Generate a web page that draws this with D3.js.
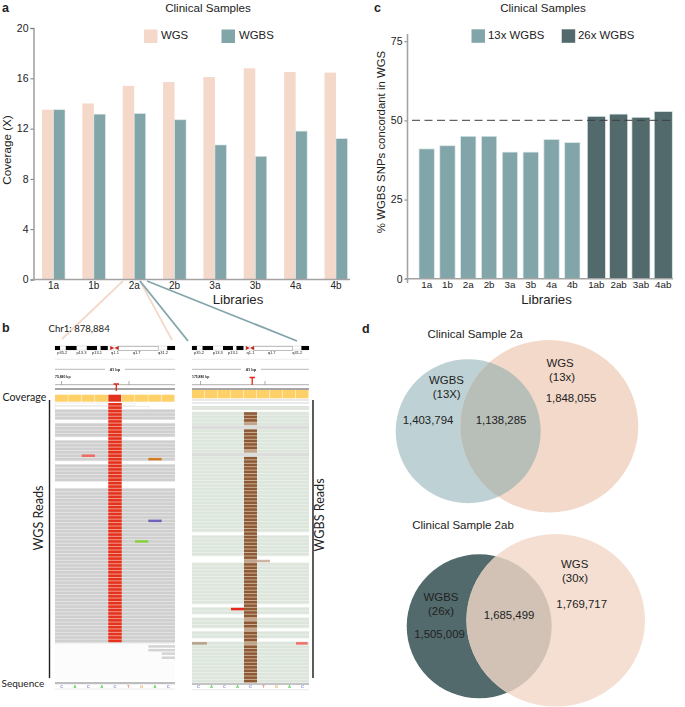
<!DOCTYPE html>
<html><head><meta charset="utf-8">
<script src="https://cdn.jsdelivr.net/npm/d3@7/dist/d3.min.js"></script>
<style>
html,body{margin:0;padding:0;background:#fff}
svg{display:block}
text{font-family:"Liberation Sans",Arial,sans-serif;fill:#222}
.hum{font-family:"Lato","Open Sans",sans-serif}
</style></head><body><svg id="c" width="685" height="707"></svg>
<script>
// ---- panel a
const libs = ["1a","1b","2a","2b","3a","3b","4a","4b"];
const wgsCoverage = [13.5,14,15.4,15.7,16.1,16.8,16.5,16.45];
const wgbsCoverage = [13.5,13.15,13.2,12.7,10.7,9.8,11.8,11.2];
const coverageTicks = [0,4,8,12,16,20];
// ---- panel c
const libs13 = ["1a","1b","2a","2b","3a","3b","4a","4b"];
const pct13 = [41,42,45,45,40,40,44,43];
const libs26 = ["1ab","2ab","3ab","4ab"];
const pct26 = [51.3,52,51,52.8];
const pctTicks = [0,25,50,75];
// ---- panel d
const venn2a = ["1,403,794","1,138,285","1,848,055"];
const venn2ab = ["1,505,009","1,685,499","1,769,717"];
// ---- panel b (read rows / base columns of the genome browser views)
const bases = ["C","A","C","A","C","T","G","A","C"];
const baseColors = {C:"#7f7fd8",A:"#5fce5f",T:"#f07a6a",G:"#f0a860"};
const cytoBlack = [[0,4.2],[9,18],[26.5,35],[38,44]];
const cytoNames = ["p35.2","p13.3","p13.1","q1.1","q1.7","q31.2"];
const cytoNamePos = [6,22,35,50,68,90];
const wgsRuns = [[2,4],[6,9],[11,16],[18,22],[25,69]];
const wgsMismatch = [{row:15,col:2,c:"#ee6a62"},{row:16,col:7,c:"#d67a20"},{row:34,col:7,c:"#6e62b8"},{row:40,col:6,c:"#88d040"}];
const wgsTail = [{row:70.6,col:7},{row:71.7,col:7},{row:72.7,col:8},{row:73.9,col:8}];
const wgbsRuns = [[0,3],[5,11],[13,34],[36,41],[44,55],[57,58],[60,62],[64,65],[67,78]];
const wgbsGrayRows = [4,12];
const wgbsBrownRuns = [[0,3],[5,11],[13,78]];
const wgbsPaleRows = [3,11,43,63,67,60];
const wgbsMismatch = [{row:43,col:5,c:"#cdb4a2",f:1},{row:57,col:3,c:"#e8281c",f:1},{row:67,col:0,c:"#b9a089",f:1.15},{row:67,col:8,c:"#f0706a",f:.9}];

const svg = d3.select("#c");
function label(t,x,y,size,opt={}){
  const e = svg.append("text").text(t).attr("x",x).attr("y",y).attr("font-size",size)
    .attr("text-anchor",opt.anchor||"middle").attr("dominant-baseline","middle");
  if(opt.bold) e.attr("font-weight","bold");
  if(opt.cls) e.attr("class",opt.cls);
  if(opt.rot) e.attr("transform",`rotate(${opt.rot} ${x} ${y})`);
  return e;
}
function styleAxis(g,fs){
  g.selectAll("path.domain").attr("stroke","#a3a3a3").attr("stroke-width",1.6);
  g.selectAll(".tick line").attr("stroke","#777");
  g.selectAll(".tick text").attr("font-size",fs).attr("font-family","Liberation Sans").attr("fill","#222");
}
const cWGS="#f4d9ca", cTeal="#82a5aa", cDark="#526a6c", cEdge="#dfeaea";

// ======= connectors (drawn first, below axes)
[[123,281,62,339,cWGS],[140,281,172,340,cWGS],[140,281,188,341,cTeal],[147,281,297,341,cTeal]].forEach(l=>{
  svg.append("line").attr("x1",l[0]).attr("y1",l[1]).attr("x2",l[2]).attr("y2",l[3]).attr("stroke",l[4]).attr("stroke-width",1.8);
});

// ======= panel a
const yA = d3.scaleLinear().domain([0,20]).range([279.5,28]);
const x0 = d3.scaleBand().domain(libs).range([33.3,356.2]).paddingInner(.43).paddingOuter(.2156);
const x1 = d3.scaleBand().domain(["WGS","WGBS"]).range([0,x0.bandwidth()]);
const gA = svg.append("g");
[["WGS",wgsCoverage,cWGS],["WGBS",wgbsCoverage,cTeal]].forEach(([n,vals,col])=>{
  gA.selectAll("rect."+n).data(libs).join("rect").attr("class",n)
    .attr("x",d=>x0(d)+x1(n)).attr("width",x1.bandwidth())
    .attr("y",(d,i)=>yA(vals[i])).attr("height",(d,i)=>yA(0)-yA(vals[i]))
    .attr("fill",col).attr("stroke",n==="WGBS"?cEdge:"none").attr("stroke-width",.6);
});
const axAy = svg.append("g").attr("transform","translate(33.5,0)").call(d3.axisLeft(yA).tickValues(coverageTicks).tickSize(3).tickPadding(2));
styleAxis(axAy,10.5);
svg.append("line").attr("x1",33).attr("x2",350).attr("y1",279.5).attr("y2",279.5).attr("stroke","#a3a3a3").attr("stroke-width",1.6);
const axAx = svg.append("g").attr("transform","translate(0,279.5)").call(d3.axisBottom(x0).tickSize(0).tickPadding(2));
axAx.select("path.domain").remove();
styleAxis(axAx,10);
label("Clinical Samples",208,8.5,11.6);
label("Libraries",238,300.5,13.2);
label("Coverage (X)",7.5,150,11.7,{rot:-90});
label("a",2,9,12.5,{anchor:"start",bold:true});
svg.append("rect").attr("x",144).attr("y",29.5).attr("width",13.5).attr("height",13.5).attr("fill",cWGS);
label("WGS",161,36,11.4,{anchor:"start"});
svg.append("rect").attr("x",221.5).attr("y",29.5).attr("width",13.5).attr("height",13.5).attr("fill",cTeal);
label("WGBS",239,36,11.4,{anchor:"start"});

// ======= panel c
const yC = d3.scaleLinear().domain([0,75]).range([278.7,41.3]);
const x13 = d3.scaleBand().domain(libs13).range([419,580]).paddingInner(.265).paddingOuter(0);
const x26 = d3.scaleBand().domain(libs26).range([587.3,672.3]).paddingInner(.19).paddingOuter(0);
const gC = svg.append("g");
[[libs13,pct13,x13,cTeal],[libs26,pct26,x26,cDark]].forEach(([ds,vals,sc,col])=>{
  gC.append("g").selectAll("rect").data(ds).join("rect")
    .attr("x",d=>sc(d)).attr("width",sc.bandwidth())
    .attr("y",(d,i)=>yC(vals[i])).attr("height",(d,i)=>yC(0)-yC(vals[i]))
    .attr("fill",col).attr("stroke",cEdge).attr("stroke-width",.7);
});
svg.append("line").attr("x1",412).attr("x2",673).attr("y1",yC(50)).attr("y2",yC(50))
  .attr("stroke","#3c3c3c").attr("stroke-opacity",.8).attr("stroke-width",1.2).attr("stroke-dasharray","8 4.5");
const axCy = svg.append("g").attr("transform","translate(407.5,0)").call(d3.axisLeft(yC).tickValues(pctTicks).tickSize(3).tickPadding(2));
axCy.select("path.domain").remove();
styleAxis(axCy,10.5);
svg.append("line").attr("x1",407.5).attr("x2",407.5).attr("y1",34).attr("y2",283).attr("stroke","#a3a3a3").attr("stroke-width",1.6);
svg.append("line").attr("x1",405).attr("x2",673).attr("y1",278.7).attr("y2",278.7).attr("stroke","#a3a3a3").attr("stroke-width",1.6);
[[libs13,x13],[libs26,x26]].forEach(([ds,sc])=>{
  const g = svg.append("g").attr("transform","translate(0,278.7)").call(d3.axisBottom(sc).tickValues(ds).tickSize(0).tickPadding(2));
  g.select("path.domain").remove();
  styleAxis(g,9.8);
});
label("Clinical Samples",543,8.5,11.6);
label("Libraries",546.5,300.5,13.2);
label("% WGBS SNPs concordant in WGS",382,142,11.4,{rot:-90});
label("c",374,9,12.5,{anchor:"start",bold:true});
svg.append("rect").attr("x",471.5).attr("y",29.3).attr("width",13.5).attr("height",13.5).attr("fill",cTeal);
label("13x WGBS",488,36,11.4,{anchor:"start"});
svg.append("rect").attr("x",561.7).attr("y",29.3).attr("width",13.5).attr("height",13.5).attr("fill",cDark);
label("26x WGBS",578,36,11.4,{anchor:"start"});

// ======= panel d
const defs = svg.append("defs");
function venn(idx,A,B,colA,colB,colAB){
  const id="v"+idx;
  defs.append("clipPath").attr("id",id).append("ellipse").attr("cx",A.cx).attr("cy",A.cy).attr("rx",A.rx).attr("ry",A.ry);
  svg.append("ellipse").attr("cx",A.cx).attr("cy",A.cy).attr("rx",A.rx).attr("ry",A.ry).attr("fill",colA);
  svg.append("ellipse").attr("cx",B.cx).attr("cy",B.cy).attr("rx",B.rx).attr("ry",B.ry).attr("fill",colB);
  svg.append("ellipse").attr("cx",B.cx).attr("cy",B.cy).attr("rx",B.rx).attr("ry",B.ry).attr("fill",colAB).attr("clip-path",`url(#${id})`);
}
venn(1,{cx:468.2,cy:431.2,rx:72.5,ry:72},{cx:549.3,cy:426.2,rx:89,ry:86.2},"#bed2d5","#f3d9ca","#b8bfb8");
venn(2,{cx:479.2,cy:626.3,rx:72.5,ry:72},{cx:555.7,cy:620.3,rx:89.3,ry:86.3},cDark,"#f4dfd2","#d2c2b6");
label("d",362,329.5,12.5,{anchor:"start",bold:true});
label("Clinical Sample 2a",475,335,11.5);
label("WGBS",446.5,381,11.4); label("(13X)",446.7,395,11.4);
label(venn2a[0],428,421,11.4); label(venn2a[1],501,421,11.4);
label("WGS",560,364,11.4); label("(13x)",562,378,11.4); label(venn2a[2],571,399,11.4);
label("Clinical Sample 2ab",463,526,11.5);
label("WGBS",441,598,11.4); label("(26x)",441,612,11.4);
label(venn2ab[0],439.5,635,11.4); label(venn2ab[1],509,616,11.4);
label("WGS",574.7,565,11.4); label("(30x)",575,579,11.4); label(venn2ab[2],581.7,605,11.4);

// ======= panel b
defs.append("filter").attr("id","soft").attr("x",0).attr("y",0).attr("width",1).attr("height",1)
  .attr("filterUnits","objectBoundingBox").append("feGaussianBlur").attr("stdDeviation",.4);
label("b",2,329,12.5,{anchor:"start",bold:true});
label("Chr1: 878,884",48.5,330,9.6,{anchor:"start",cls:"hum"});
label("Coverage",2.5,398,10.6,{anchor:"start",cls:"hum"});
label("Sequence",1.5,684,10,{anchor:"start",cls:"hum"});
label("WGS Reads",40,518,12.6,{rot:-90,cls:"hum"});
label("WGBS Reads",320.5,515,12.6,{rot:-90,cls:"hum"});
svg.append("line").attr("x1",49.5).attr("x2",49.5).attr("y1",400).attr("y2",678).attr("stroke","#222").attr("stroke-width",1.4);
svg.append("line").attr("x1",313).attr("x2",313).attr("y1",400).attr("y2",678).attr("stroke","#333").attr("stroke-width",1.6);

function track(T){
  const g = svg.append("g").attr("filter","url(#soft)");
  g.append("rect").attr("x",T.x0-2).attr("y",342).attr("width",T.x1-T.x0+4).attr("height",350).attr("fill","#fff");
  const xp = d3.scaleLinear().domain([0,100]).range([T.x0,T.x1]);
  const xc = d3.scaleBand().domain(d3.range(9)).range([T.x0,T.x1]);
  const y = d3.scaleLinear().domain([0,1]).range([T.rowY,T.rowY+3.43]);
  const rh=2.5;
  // ideogram
  g.append("rect").attr("x",xp(0)).attr("y",346).attr("width",xp(100)-xp(0)).attr("height",4).attr("fill","#fff").attr("stroke","#bbb").attr("stroke-width",.4);
  g.append("rect").attr("x",xp(53)).attr("y",346.3).attr("width",xp(86)-xp(53)).attr("height",4).attr("fill","#fff").attr("stroke","#999").attr("stroke-width",.6);
  g.selectAll("rect.cb").data(cytoBlack.concat([[93.5,100]])).join("rect").attr("class","cb")
    .attr("x",d=>xp(d[0])).attr("width",d=>xp(d[1])-xp(d[0])).attr("y",346).attr("height",4).attr("fill","#000");
  g.append("path").attr("d",`M${xp(46)} 346L${xp(49.5)} 348L${xp(46)} 350ZM${xp(53)} 346L${xp(49.5)} 348L${xp(53)} 350Z`).attr("fill","#c8281e");
  g.selectAll("text.cn").data(cytoNames).join("text").attr("class","cn").text(d=>d)
    .attr("x",(d,i)=>xp(cytoNamePos[i])).attr("y",352.7).attr("font-size",4).attr("text-anchor","middle").attr("dominant-baseline","middle");
  // scale rows
  g.append("line").attr("x1",xp(0)).attr("x2",xp(100)).attr("y1",359.3).attr("y2",359.3).attr("stroke","#e8e8e8").attr("stroke-width",.7);
  g.append("line").attr("x1",xp(0)).attr("x2",T.bpX-10).attr("y1",369.3).attr("y2",369.3).attr("stroke","#999").attr("stroke-width",.7);
  g.append("line").attr("x1",T.bpX+10).attr("x2",xp(100)).attr("y1",369.3).attr("y2",369.3).attr("stroke","#999").attr("stroke-width",.7);
  g.append("text").text("41 bp").attr("x",T.bpX).attr("y",369.5).attr("font-size",4).attr("font-weight","bold").attr("text-anchor","middle").attr("dominant-baseline","middle");
  g.append("text").text(T.pos).attr("x",xp(0)).attr("y",377.5).attr("font-size",3.4).attr("font-weight","bold").attr("dominant-baseline","middle");
  g.append("line").attr("x1",xp(0)).attr("x2",xp(100)).attr("y1",384.7).attr("y2",384.7).attr("stroke","#999").attr("stroke-width",.8);
  T.ticks.forEach(t=>g.append("line").attr("x1",t).attr("x2",t).attr("y1",381).attr("y2",384.7).attr("stroke","#777").attr("stroke-width",.6));
  g.append("rect").attr("x",xp(0)).attr("y",388).attr("width",xp(100)-xp(0)).attr("height",2).attr("fill","#a5a5a5");
  // coverage
  g.selectAll("rect.cov").data(d3.range(9)).join("rect").attr("class","cov")
    .attr("x",d=>xc(d)).attr("width",xc.bandwidth()-.5).attr("y",T.covY).attr("height",T.covH)
    .attr("fill",d=>(d===4&&T.red)?"#e2321f":"#fdd067");
  // sequence
  g.append("rect").attr("x",xp(0)).attr("y",T.seqY).attr("width",xp(100)-xp(0)).attr("height",2.2).attr("fill","#bdbdbd");
  g.append("line").attr("x1",xp(0)).attr("x2",xp(100)).attr("y1",T.seqY+7).attr("y2",T.seqY+7).attr("stroke","#e4e4e8").attr("stroke-width",.8);
  g.selectAll("text.b").data(bases).join("text").attr("class","b").text(d=>d)
    .attr("x",(d,i)=>xc(i)+xc.bandwidth()/2).attr("y",T.seqY+4.6).attr("font-size",4.2).attr("font-weight","bold")
    .attr("text-anchor","middle").attr("dominant-baseline","middle").style("fill",d=>baseColors[d]);
  T.draw(g,xc,y,rh);
}
function rows(g,runs,xa,xb,y,rh,bg,fg){
  runs.forEach(([a,b])=>{
    g.append("rect").attr("x",xa).attr("width",xb-xa).attr("y",y(a)-.8).attr("height",y(b)-y(a)+rh+1.6).attr("fill",bg);
    for(let i=a;i<=b;i++) g.append("rect").attr("x",xa).attr("width",xb-xa).attr("y",y(i)).attr("height",rh).attr("fill",fg);
  });
}
track({x0:55,x1:175,bpX:115,pos:"75,880 bp",ticks:[61.5,129],covY:394.7,covH:7,seqY:682,rowY:403,red:true,draw(g,xc,y,rh){
  const xa=55,xb=175;
  g.append("rect").attr("x",xa).attr("y",403).attr("width",80).attr("height",2.6).attr("fill","#fff").attr("stroke","#ddd").attr("stroke-width",.5);
  g.append("rect").attr("x",xa).attr("y",406.6).attr("width",94).attr("height",2.6).attr("fill","#fff").attr("stroke","#ddd").attr("stroke-width",.5);
  rows(g,wgsRuns,xa,xb,y,rh,"#e6e6e6","#cfcfcf");
  // variant column
  g.append("rect").attr("x",xc(4)).attr("width",xc.bandwidth()).attr("y",y(0)).attr("height",y(69)+rh-y(0)).attr("fill","#f4a093");
  g.selectAll("rect.v").data(d3.range(70)).join("rect").attr("class","v").attr("x",xc(4)).attr("width",xc.bandwidth())
    .attr("y",d=>y(d)).attr("height",rh).attr("fill","#e4301e");
  g.selectAll("rect.m").data(wgsMismatch).join("rect").attr("class","m").attr("x",d=>xc(d.col)).attr("width",xc.bandwidth())
    .attr("y",d=>y(d.row)).attr("height",rh).attr("fill",d=>d.c);
  g.append("rect").attr("x",xa).attr("y",y(70)).attr("width",120).attr("height",37).attr("fill","#fcfcfc");
  g.append("line").attr("x1",xa).attr("x2",xb).attr("y1",y(70)+.3).attr("y2",y(70)+.3).attr("stroke","#ddd").attr("stroke-width",.7).attr("stroke-dasharray","1.5 1");
  g.selectAll("rect.t").data(wgsTail).join("rect").attr("class","t").attr("x",d=>xc(d.col)).attr("width",d=>xb-xc(d.col))
    .attr("y",d=>y(d.row)).attr("height",rh).attr("fill","#d4d4d4");
  g.append("path").attr("d",`M113.5 384H119M116.3 384V391`).attr("stroke","#e8261c").attr("stroke-width",1.3).attr("fill","none");
}});
track({x0:192,x1:309,bpX:251,pos:"175,880 bp",ticks:[200.5,265],covY:390,covH:8.3,seqY:682.7,rowY:412.3,red:false,draw(g,xc,y,rh){
  const xa=192,xb=309;
  g.append("rect").attr("x",xa).attr("y",399).attr("width",117).attr("height",2).attr("fill","#e8e8e8");
  g.append("rect").attr("x",xa).attr("y",402).attr("width",117).attr("height",1.8).attr("fill","#e8e8e8");
  g.append("rect").attr("x",xa).attr("y",406).attr("width",117).attr("height",4).attr("fill","#e0e5dd");
  rows(g,wgbsRuns,xa,xb,y,rh,"#ebf0e9","#dde6dc");
  g.selectAll("rect.gr").data(wgbsGrayRows).join("rect").attr("class","gr").attr("x",xa).attr("width",117).attr("y",d=>y(d)-.4).attr("height",rh+.8).attr("fill","#dcdcdc");
  wgbsBrownRuns.forEach(([a,b])=>{
    g.append("rect").attr("x",xc(4)).attr("width",xc.bandwidth()).attr("y",y(a)).attr("height",y(b)+rh-y(a)).attr("fill","#cfb49a");
    for(let i=a;i<=b;i++) g.append("rect").attr("x",xc(4)).attr("width",xc.bandwidth()).attr("y",y(i)).attr("height",rh)
      .attr("fill",wgbsPaleRows.includes(i)?"#bfa58c":"#8e5a36");
  });
  g.selectAll("rect.m").data(wgbsMismatch).join("rect").attr("class","m").attr("x",d=>xc(d.col)).attr("width",d=>xc.bandwidth()*d.f)
    .attr("y",d=>y(d.row)).attr("height",rh).attr("fill",d=>d.c);
  g.append("path").attr("d",`M249.5 377.5H255M252.2 377.5V385`).attr("stroke","#e8261c").attr("stroke-width",1.3).attr("fill","none");
}});
</script></body></html>
